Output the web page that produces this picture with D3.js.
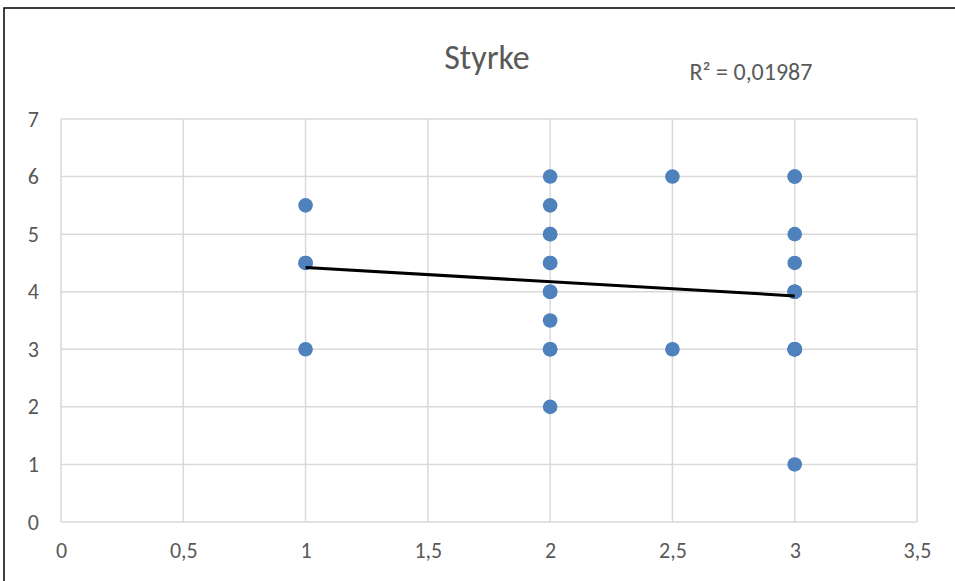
<!DOCTYPE html>
<html><head><meta charset="utf-8">
<script src="https://cdn.jsdelivr.net/npm/d3@7"></script>
<style>body{margin:0;background:#fff}svg{display:block}</style>
</head><body>
<svg id="c" width="955" height="581"></svg>
<script>
const title = "Styrke";
const r2Label = "R² = 0,01987";
const xTicks = [0, 0.5, 1, 1.5, 2, 2.5, 3, 3.5];
const yTicks = [0, 1, 2, 3, 4, 5, 6, 7];
const xValues = [1,1,1,1, 2,2,2,2,2,2,2,2,2,2,2,2, 2.5,2.5, 3,3,3,3,3,3,3,3,3,3,3,3];
const yValues = [3,4.5,4.5,5.5, 2,3,3,3.5,4,4,4.5,4.5,5,5,5.5,6, 3,6, 1,3,3,3,3,4,4,4,4.5,5,6,6];

const svg = d3.select("#c");
const W = 955, H = 581;
const m = {left: 61, right: W - 917, top: 119, bottom: H - 522};
const x = d3.scaleLinear().domain([0, 3.5]).range([m.left, W - m.right]);
const y = d3.scaleLinear().domain([0, 7]).range([H - m.bottom, m.top]);
const fmt = d => String(d).replace(".", ",");
const font = "Carlito, Calibri, Lato, sans-serif";

// outer frame (left and top edges visible)
svg.append("rect").attr("x", 4).attr("y", 8).attr("width", 980).attr("height", 600)
  .attr("fill", "none").attr("stroke", "#000").attr("stroke-width", 1.5);

// grid
svg.append("g").selectAll("line").data(xTicks).join("line")
  .attr("x1", d => x(d)).attr("x2", d => x(d)).attr("y1", y(0)).attr("y2", y(7))
  .attr("stroke", "#d9d9d9").attr("stroke-width", 1.5);
svg.append("g").selectAll("line").data(yTicks).join("line")
  .attr("x1", x(0)).attr("x2", x(3.5)).attr("y1", d => y(d)).attr("y2", d => y(d))
  .attr("stroke", "#d9d9d9").attr("stroke-width", 1.5);

// axes labels via d3 axes
const xAxis = svg.append("g").attr("transform", `translate(0,${y(0)})`)
  .call(d3.axisBottom(x).tickValues(xTicks).tickFormat(fmt).tickSize(0).tickPadding(20));
const yAxis = svg.append("g").attr("transform", `translate(${x(0)},0)`)
  .call(d3.axisLeft(y).tickValues(yTicks).tickFormat(fmt).tickSize(0).tickPadding(22));
[xAxis, yAxis].forEach(g => {
  g.select(".domain").remove();
  g.selectAll("text").attr("fill", "#595959").attr("font-size", 22).attr("font-family", font);
});

// points
svg.append("g").selectAll("circle").data(xValues.map((v, i) => [v, yValues[i]])).join("circle")
  .attr("cx", d => x(d[0])).attr("cy", d => y(d[1])).attr("r", 7.3)
  .attr("fill", "#4f81bd");

// linear trend line computed from data
const mx = d3.mean(xValues), my = d3.mean(yValues);
let sxy = 0, sxx = 0;
xValues.forEach((v, i) => { sxy += (v - mx) * (yValues[i] - my); sxx += (v - mx) ** 2; });
const slope = sxy / sxx, intercept = my - slope * mx;
const [x0, x1] = d3.extent(xValues);
svg.append("line")
  .attr("x1", x(x0)).attr("y1", y(intercept + slope * x0))
  .attr("x2", x(x1)).attr("y2", y(intercept + slope * x1))
  .attr("stroke", "#000").attr("stroke-width", 3);

// title & R²
svg.append("text").attr("x", 487).attr("y", 69).attr("text-anchor", "middle")
  .attr("font-family", font).attr("font-size", 34).attr("fill", "#595959").text(title);
svg.append("text").attr("x", 751).attr("y", 80).attr("text-anchor", "middle")
  .attr("font-family", font).attr("font-size", 24).attr("fill", "#595959").text(r2Label);
</script>
</body></html>
